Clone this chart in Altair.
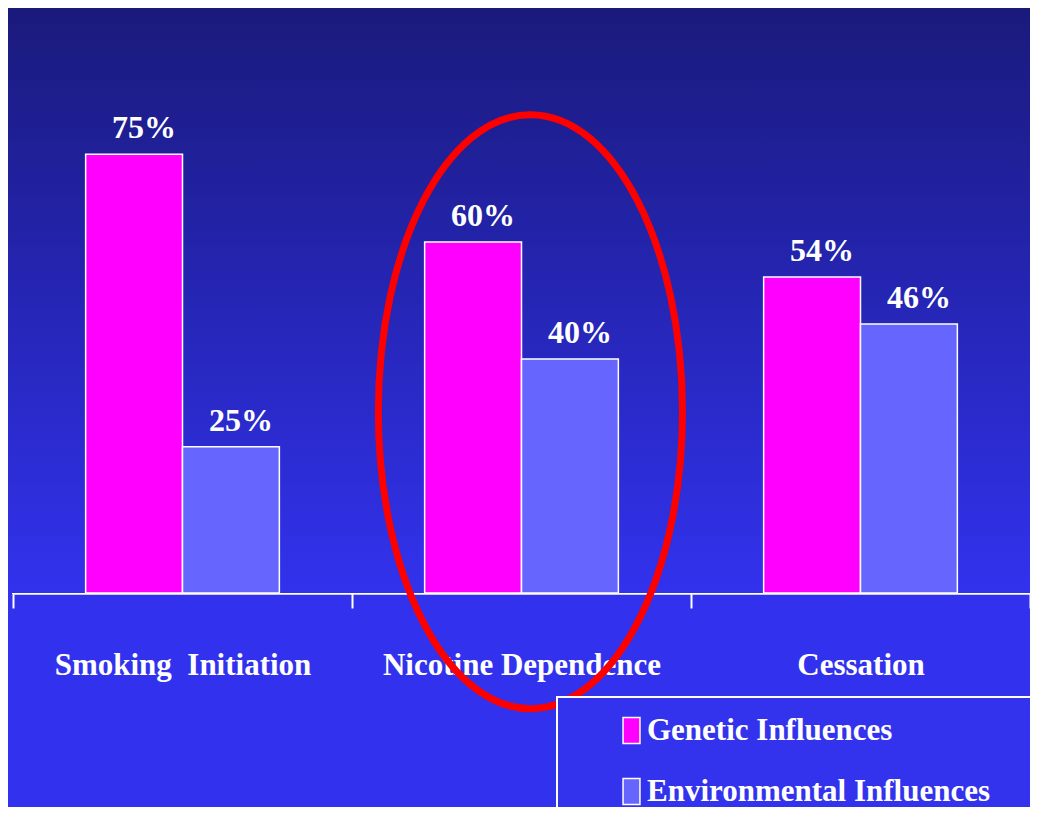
import altair as alt
import pandas as pd

categories = ["Smoking\u00a0 Initiation", "Nicotine Dependence", "Cessation"]
series = ["Genetic Influences", "Environmental Influences"]
genetic = [75, 60, 54]
environmental = [25, 40, 46]
colors = ["#FF00FF", "#6666FF"]

highlight_category = "Nicotine Dependence"
highlight_value = 31

rows = []
for c, g, e in zip(categories, genetic, environmental):
    rows.append({"category": c, "series": series[0], "value": g, "label": f"{g}%"})
    rows.append({"category": c, "series": series[1], "value": e, "label": f"{e}%"})
df = pd.DataFrame(rows)

W, H = 1017, 585
FONT = "Liberation Serif, Times New Roman, serif"

xenc = alt.X("category:N", sort=categories,
             scale=alt.Scale(paddingInner=0, paddingOuter=0),
             axis=alt.Axis(title=None, labelAngle=0, tickBand="extent",
                           labelLimit=500, labelPadding=42))
yenc = alt.Y("value:Q", scale=alt.Scale(domain=[0, 100], nice=False), axis=None)
xoff = alt.XOffset("series:N", sort=series,
                   scale=alt.Scale(paddingInner=0, paddingOuter=0.75))

grad = alt.Gradient(
    gradient="linear",
    stops=[alt.GradientStop(color="#1A1A7C", offset=0),
           alt.GradientStop(color="#2323AA", offset=0.4),
           alt.GradientStop(color="#3232EE", offset=1)],
    x1=0, x2=0, y1=0, y2=1,
)

bg = alt.Chart(pd.DataFrame({"a": [0]})).mark_rect(color=grad).encode(
    x=alt.value(-5), x2=alt.value(W), y=alt.value(0), y2=alt.value(H)
)

bars = alt.Chart(df).mark_bar(stroke="white", strokeWidth=1.5).encode(
    x=xenc, y=yenc, xOffset=xoff,
    color=alt.Color("series:N", sort=series,
                    scale=alt.Scale(domain=series, range=colors),
                    legend=alt.Legend(
                        title=" ", titleOrient="right", titlePadding=60,
                        orient="none", legendX=544, legendY=689,
                        fillColor="#3333EE", strokeColor="white",
                        padding=18, symbolOffset=41, labelOffset=0, rowPadding=28,
                        symbolType="M-0.65,-1H0.65V1H-0.65Z", symbolSize=676,
                        symbolStrokeColor="white", symbolStrokeWidth=1.5,
                        symbolOpacity=1,
                        labelColor="white", labelFont=FONT, labelFontSize=31,
                        labelFontWeight="bold", labelLimit=600,
                    )),
)

labels = alt.Chart(df).mark_text(
    color="white", font=FONT, fontSize=32, fontWeight="bold",
    baseline="alphabetic", dx=10, dy=-16,
).encode(x=xenc, y=yenc, xOffset=xoff, text="label:N")

k = 0.5523
a = 0.512
c = 0.03
ka = k * a
ellipse_path = (
    f"M{c+a:.4f},0 C{c+a:.4f},{k:.4f} {c+ka:.4f},1 {c:.4f},1 "
    f"C{c-ka:.4f},1 {c-a:.4f},{k:.4f} {c-a:.4f},0 "
    f"C{c-a:.4f},{-k:.4f} {c-ka:.4f},-1 {c:.4f},-1 "
    f"C{c+ka:.4f},-1 {c+a:.4f},{-k:.4f} {c+a:.4f},0 Z"
)
hl = pd.DataFrame({"category": [highlight_category], "value": [highlight_value]})
ellipse = alt.Chart(hl).mark_point(
    shape=ellipse_path, size=594 * 594, filled=False,
    color="#FF0000", strokeWidth=7, opacity=1,
).encode(x=xenc, y=yenc)

chart = alt.layer(bg, bars, labels, ellipse).properties(
    width=W, height=H,
    autosize=alt.AutoSizeParams(type="none"),
    padding={"left": 5, "top": 0, "right": 0, "bottom": 214},
    background="#3232EE",
).configure_view(
    stroke="white", strokeWidth=2,
).configure_axis(
    domainColor="white", domainWidth=2.5, tickColor="white", tickWidth=2,
    tickSize=15, labelColor="white", labelFont=FONT, labelFontSize=31,
    labelFontWeight="bold", grid=False,
).configure_legend(
    strokeWidth=2,
)

chart.save("out.html", embed_options={"renderer": "svg", "actions": False})
